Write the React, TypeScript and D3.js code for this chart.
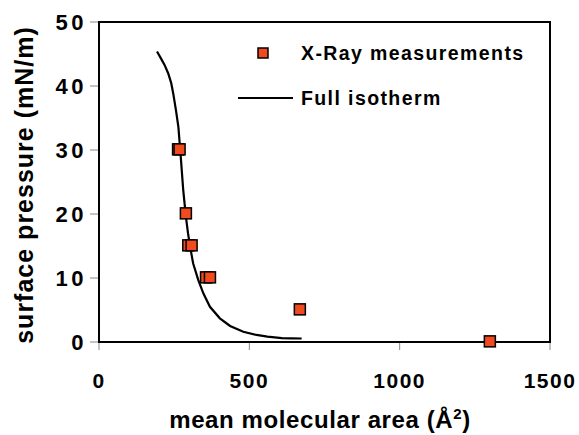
import React from 'react';
import * as d3 from 'd3';

// X-ray measurement points
const xrayArea = [263, 268, 289, 297, 308, 356, 369, 668, 1300];
const xrayPressure = [30.1, 30.1, 20.1, 15.1, 15.1, 10.1, 10.1, 5.1, 0.1];

// full isotherm
const isoArea = [193, 205, 218, 230, 240, 247, 256, 264, 271, 280, 289, 296, 303, 313, 330, 347, 369, 402, 436, 480, 524, 560, 608, 640, 674];
const isoPressure = [45.4, 44.4, 43.3, 42, 40.5, 38.8, 36.2, 33.6, 29.5, 23.8, 19.6, 17, 14.9, 12.3, 9.7, 7.6, 5.5, 3.7, 2.5, 1.6, 1.1, 0.85, 0.6, 0.58, 0.55];

const xTicks = [0, 500, 1000, 1500];
const yTicks = [0, 10, 20, 30, 40, 50];

const W = 579, H = 435;
const margin = {top: 22, right: 29, bottom: 93, left: 99};
const FONT = 'Arial, "Liberation Sans", sans-serif';

export default function App() {
  const width = W - margin.left - margin.right;
  const height = H - margin.top - margin.bottom;

  const x = d3.scaleLinear().domain([0, 1500]).range([0, width]);
  const y = d3.scaleLinear().domain([0, 50]).range([height, 0]);

  const iso = isoArea.map((a, i) => [a, isoPressure[i]] as [number, number]);
  const line = d3.line<[number, number]>()
    .x(d => x(d[0]))
    .y(d => y(d[1]));

  const sq = 11;

  return (
    <svg width={W} height={H} style={{position: 'absolute', left: 0, top: 0, background: '#fff'}}>
      <g transform={`translate(${margin.left},${margin.top})`}>
        {/* y ticks */}
        {yTicks.map(t => (
          <g key={'y' + t}>
            <line x1={-9} x2={0} y1={y(t)} y2={y(t)} stroke="#888" strokeWidth={1} />
            <text x={-12} y={y(t)} dy="0.36em" textAnchor="end" fontFamily={FONT}
              fontWeight="bold" fontSize={22} letterSpacing={3.5} fill="#000">{t}</text>
          </g>
        ))}
        {/* x ticks */}
        {xTicks.map(t => (
          <g key={'x' + t}>
            <line x1={x(t)} x2={x(t)} y1={height} y2={height + 8} stroke="#888" strokeWidth={1} />
            <text x={x(t)} y={height + 46} textAnchor="middle" fontFamily={FONT}
              fontWeight="bold" fontSize={21} letterSpacing={1.5} fill="#000">{t}</text>
          </g>
        ))}
        {/* frame */}
        <rect x={0} y={0} width={width} height={height} fill="none" stroke="#000" strokeWidth={2} />

        {/* isotherm */}
        <path d={line(iso) || ''} fill="none" stroke="#000" strokeWidth={2.2} />

        {/* x-ray squares */}
        {xrayArea.map((a, i) => (
          <rect key={'p' + i} x={x(a) - sq / 2} y={y(xrayPressure[i]) - sq / 2} width={sq} height={sq}
            fill="#f04a1e" stroke="#000" strokeWidth={1.5} />
        ))}

        {/* legend */}
        <rect x={164 - 5} y={31 - 5} width={10} height={10} fill="#f04a1e" stroke="#000" strokeWidth={1.5} />
        <text x={202} y={38} fontFamily={FONT} fontWeight="bold" fontSize={19.5} letterSpacing={1.4} fill="#000">X-Ray measurements</text>
        <line x1={139} x2={194} y1={76} y2={76} stroke="#000" strokeWidth={2} />
        <text x={202} y={83} fontFamily={FONT} fontWeight="bold" fontSize={19.5} letterSpacing={1.4} fill="#000">Full isotherm</text>
      </g>

      {/* axis titles */}
      <text x={320} y={428} textAnchor="middle" fontFamily={FONT} fontWeight="bold" fontSize={24}
        letterSpacing={0.6} fill="#000">
        mean molecular area (Å<tspan dy={-9} fontSize={15}>2</tspan><tspan dy={9}>)</tspan>
      </text>
      <text transform="translate(33,185) rotate(-90)" textAnchor="middle" fontFamily={FONT} fontWeight="bold"
        fontSize={25} letterSpacing={1} fill="#000">surface pressure (mN/m)</text>
    </svg>
  );
}
